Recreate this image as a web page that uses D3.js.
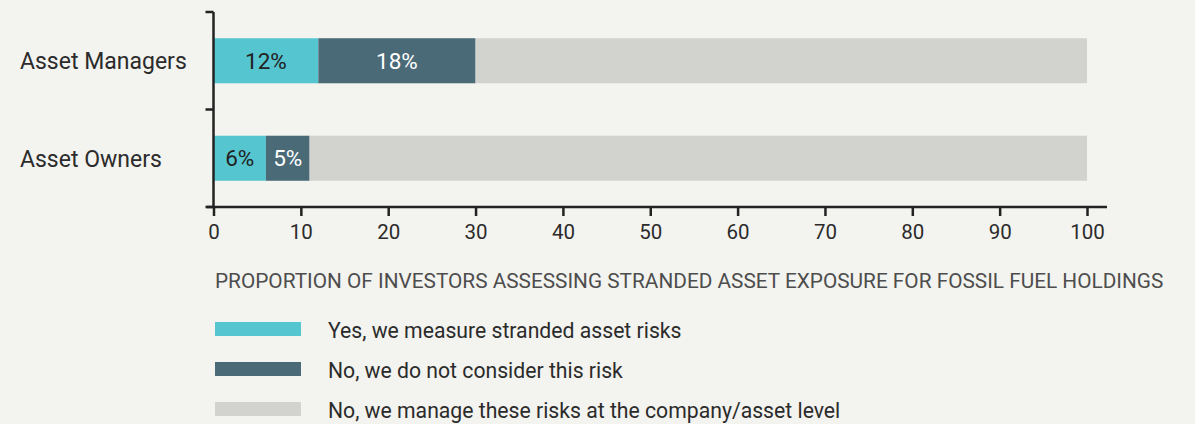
<!DOCTYPE html>
<html><head><meta charset="utf-8">
<script src="https://cdn.jsdelivr.net/npm/d3@7"></script>
<style>
html,body{margin:0;padding:0;background:#f3f3ef;}
svg{display:block;font-family:Roboto,"DejaVu Sans",sans-serif;}
</style></head><body>
<svg id="c" width="1195" height="424"></svg>
<script>
const categories = ["Asset Managers", "Asset Owners"];
const seriesNames = ["Yes, we measure stranded asset risks", "No, we do not consider this risk", "No, we manage these risks at the company/asset level"];
const yesValues = [12, 6];
const noConsiderValues = [18, 5];
const manageValues = [70, 89];
const xTicks = [0,10,20,30,40,50,60,70,80,90,100];
const axisTitle = "PROPORTION OF INVESTORS ASSESSING STRANDED ASSET EXPOSURE FOR FOSSIL FUEL HOLDINGS";
const colors = ["#55c5d0", "#4a6a78", "#d2d3ce"];
const labelColors = ["#222", "#fff", "#222"];

const svg = d3.select("#c");
const x = d3.scaleLinear().domain([0,100]).range([213.5,1087]);
const y = d3.scaleBand().domain(categories).range([12,207]).paddingInner(0.538).paddingOuter(0.269);

const rows = categories.map((c,i)=>({cat:c, vals:[yesValues[i], noConsiderValues[i], manageValues[i]]}));
const stacked = d3.stack().keys([0,1,2]).value((d,k)=>d.vals[k])(rows);

const g = svg.append("g");
stacked.forEach((layer,k)=>{
  g.selectAll(null).data(layer).enter().append("rect")
    .attr("x", d=>x(d[0])).attr("width", d=>x(d[1])-x(d[0]))
    .attr("y", d=>y(d.data.cat)).attr("height", y.bandwidth())
    .attr("fill", colors[k]);
  if(k<2){
    g.selectAll(null).data(layer).enter().append("text")
      .attr("x", d=>(x(d[0])+x(d[1]))/2).attr("y", d=>y(d.data.cat)+y.bandwidth()/2)
      .attr("dy","0.36em").attr("text-anchor","middle")
      .attr("font-size",22.5).attr("fill",labelColors[k])
      .text(d=>(d[1]-d[0])+"%");
  }
});

// category labels
svg.selectAll(null).data(categories).enter().append("text")
  .attr("x",20).attr("y",d=>y(d)+y.bandwidth()/2).attr("dy","0.36em")
  .attr("font-size",23).attr("fill","#2b2b2b").text(d=>d);

// y axis line and ticks at band boundaries
const yr = y.range();
svg.append("line").attr("x1",x(0)).attr("x2",x(0)).attr("y1",yr[0]).attr("y2",yr[1])
  .attr("stroke","#222").attr("stroke-width",2.5);
const bounds = [yr[0], yr[0]+y.step(), yr[1]];
svg.selectAll(null).data(bounds).enter().append("line")
  .attr("x1",x(0)-8).attr("x2",x(0)).attr("y1",d=>d).attr("y2",d=>d)
  .attr("stroke","#222").attr("stroke-width",2.5);

// x axis
const xa = svg.append("g").attr("transform",`translate(0,${yr[1]})`)
  .call(d3.axisBottom(x).tickValues(xTicks).tickSize(9).tickSizeOuter(0).tickPadding(8));
xa.select(".domain").remove();
xa.selectAll(".tick line").attr("stroke","#222").attr("stroke-width",2.5);
xa.selectAll(".tick text").attr("font-size",20.5).attr("fill","#2b2b2b").attr("font-family","Roboto");
xa.append("line").attr("x1",x(0)-7).attr("x2",1107).attr("y1",0).attr("y2",0)
  .attr("stroke","#222").attr("stroke-width",2.5);

svg.append("text").attr("x",215).attr("y",288).attr("font-size",20.8)
  .attr("fill","#4d4d4d").text(axisTitle);

// legend
const lg = svg.selectAll(null).data(seriesNames).enter().append("g")
  .attr("transform",(d,i)=>`translate(215,${322+i*40})`);
lg.append("rect").attr("width",86).attr("height",14).attr("fill",(d,i)=>colors[i]);
lg.append("text").attr("x",113).attr("y",8).attr("dy","0.36em").attr("font-size",21.2)
  .attr("fill","#2b2b2b").text(d=>d);
</script>
</body></html>
